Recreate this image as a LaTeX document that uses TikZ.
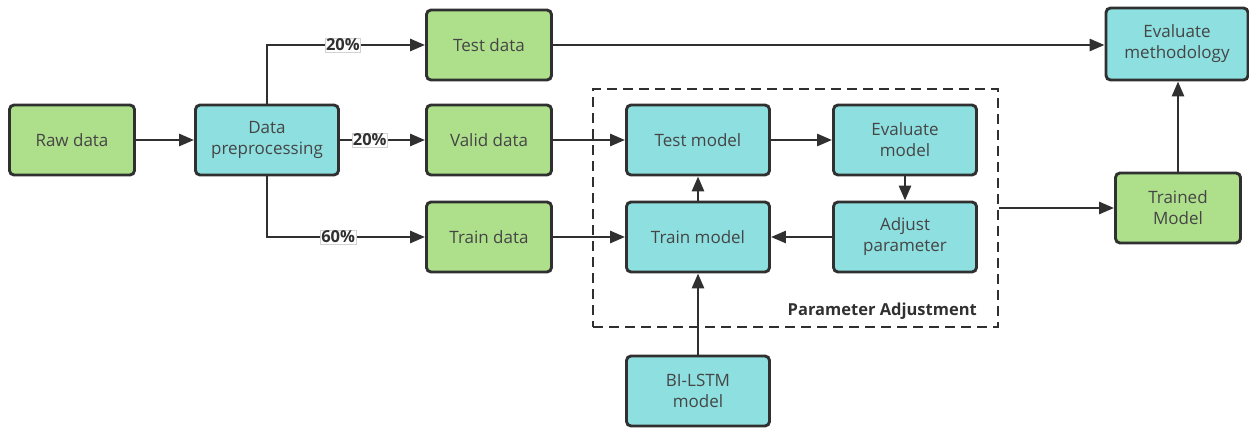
\documentclass[tikz,border=0pt]{standalone}
\usepackage{fontspec}
\setmainfont{Open Sans}
\usetikzlibrary{arrows.meta}
\definecolor{gfill}{HTML}{AEE08C}
\definecolor{cfill}{HTML}{8EDFE0}
\definecolor{edge}{HTML}{303030}
\begin{document}
\begin{tikzpicture}[x=1pt,y=-1pt,
  box/.style={draw=edge,line width=2.9pt,rounded corners=4.5pt,minimum height=70pt,align=center,font=\fontsize{17}{21}\selectfont,text=edge!90},
  gbox/.style={box,fill=gfill,minimum width=125pt},
  cbox/.style={box,fill=cfill,minimum width=143pt},
  conn/.style={draw=edge,line width=2.8pt,-{Triangle[length=15pt,width=12pt]}},
  pct/.style={fill=white,draw=gray!35,line width=0.5pt,inner sep=1pt,font=\bfseries\fontsize{16.5}{19}\selectfont,text=edge}]
\useasboundingbox (0,0) rectangle (1249,430);
\node[gbox] (raw) at (72,140) {Raw data};
\node[cbox] (pre) at (267,140) {Data\\preprocessing};
\node[gbox] (test) at (489,45) {Test data};
\node[gbox] (valid) at (489,140) {Valid data};
\node[gbox] (train) at (489,237) {Train data};
\node[cbox] (tm) at (698,140) {Test model};
\node[cbox] (em) at (905,140) {Evaluate\\model};
\node[cbox] (ap) at (905,237) {Adjust\\parameter};
\node[cbox] (trm) at (698,237) {Train model};
\node[cbox] (bi) at (698,391) {BI-LSTM\\model};
\node[cbox,minimum width=142pt,minimum height=72pt] (evm) at (1177,44) {Evaluate\\methodology};
\node[gbox] (tdm) at (1178,208) {Trained\\Model};
\node[draw=edge,line width=2.9pt,dash pattern=on 10pt off 6pt,minimum width=405pt,minimum height=238pt] (pa) at (795.5,208) {};
\node[anchor=south east,font=\bfseries\fontsize{16.5}{19}\selectfont,text=edge,inner sep=0pt] (palbl) at (977,320) {Parameter Adjustment};
\coordinate (split) at (267,45);
\coordinate (splitb) at (267,237);
\draw[conn] (raw) -- (pre);
\draw[conn] (pre.north) -- (split) -- node[pct,pos=0.48] (p1) {20\%} (test.west);
\draw[conn] (pre) -- node[pct,pos=0.35] (p2) {20\%} (valid);
\draw[conn] (pre.south) -- (splitb) -- node[pct,pos=0.45] (p3) {60\%} (train.west);
\draw[conn] (test) -- (test -| evm.west);
\draw[conn] (valid) -- (tm);
\draw[conn] (train) -- (trm);
\draw[conn] (tm) -- (em);
\draw[conn] (em) -- (ap);
\draw[conn] (ap) -- (trm);
\draw[conn] (trm) -- (tm);
\draw[conn] (bi) -- (trm);
\draw[conn] (pa.east |- tdm) -- (tdm);
\draw[conn] (tdm.north) -- (tdm.north |- evm.south);
\end{tikzpicture}
\end{document}
